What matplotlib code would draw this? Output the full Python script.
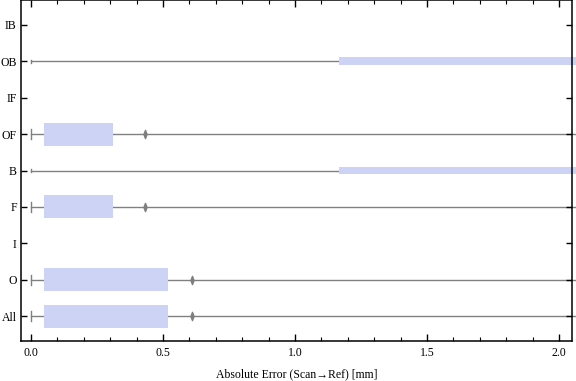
import matplotlib
matplotlib.use("Agg")
import matplotlib.pyplot as plt
import numpy as np
from matplotlib.path import Path

# categories listed bottom to top
categories = ["All", "O", "I", "F", "B", "OF", "IF", "OB", "IB"]
whisker_lo = [0.0, 0.0, None, 0.0, 0.0, 0.0, None, 0.0, None]
whisker_hi = [2.068, 2.068, None, 2.068, 2.068, 2.068, None, 2.068, None]
box_lo = [0.05, 0.05, None, 0.05, 1.167, 0.05, None, 1.167, None]
box_hi = [0.52, 0.52, None, 0.31, 2.068, 0.31, None, 2.068, None]
box_width = [0.63, 0.63, None, 0.63, 0.21, 0.63, None, 0.21, None]
markers = [0.61, 0.61, None, 0.43, None, 0.43, None, None, None]

plt.rcParams['font.family'] = ['Liberation Serif', 'DejaVu Serif']

fig = plt.figure(figsize=(5.76, 3.81), dpi=100)
ax = fig.add_axes([0.0365, 0.105, 0.957, 0.894])

line_col = '#808080'
box_col = '#ccd3f5'
diamond = Path([(0, 1), (0.38, 0), (0, -1), (-0.38, 0), (0, 1)],
               [Path.MOVETO, Path.LINETO, Path.LINETO, Path.LINETO, Path.CLOSEPOLY])

pos = np.arange(1, len(categories) + 1)
for y, lo, hi, b0, b1, w, m in zip(pos, whisker_lo, whisker_hi, box_lo, box_hi, box_width, markers):
    if lo is None:
        continue
    ax.plot([lo, hi], [y, y], color=line_col, lw=1.0, zorder=1, clip_on=False)
    ax.plot([lo, lo], [y - w * 0.22, y + w * 0.22], color=line_col, lw=1.0, zorder=1)
    ax.barh(y, b1 - b0, left=b0, height=w, color=box_col, edgecolor='none', zorder=2, clip_on=False)
    if m is not None:
        ax.plot(m, y, marker=diamond, markersize=6, color='#7f7f7f', zorder=3)

ax.set_xlim(-0.038, 2.05)
ax.set_ylim(0.32, len(categories) + 0.67)
ax.set_yticks(pos)
ax.set_yticklabels(categories)
ax.set_xticks([0, 0.5, 1.0, 1.5, 2.0])
ax.set_xticklabels(["0.0", "0.5", "1.0", "1.5", "2.0"])
ax.set_xticks(np.arange(0, 2.05, 0.1), minor=True)
ax.tick_params(which='both', direction='in', top=True, right=True, labelsize=8.5)
ax.tick_params(which='major', length=5, width=1)
ax.tick_params(which='minor', length=3, width=0.8)
ax.tick_params(axis='x', pad=4)
ax.tick_params(axis='y', length=4, pad=3)
for s in ax.spines.values():
    s.set_linewidth(1.1)
ax.set_xlabel("Absolute Error (Scan\u2192Ref) [mm]", fontsize=8.5, labelpad=7)

plt.savefig("out.png", dpi=100)
